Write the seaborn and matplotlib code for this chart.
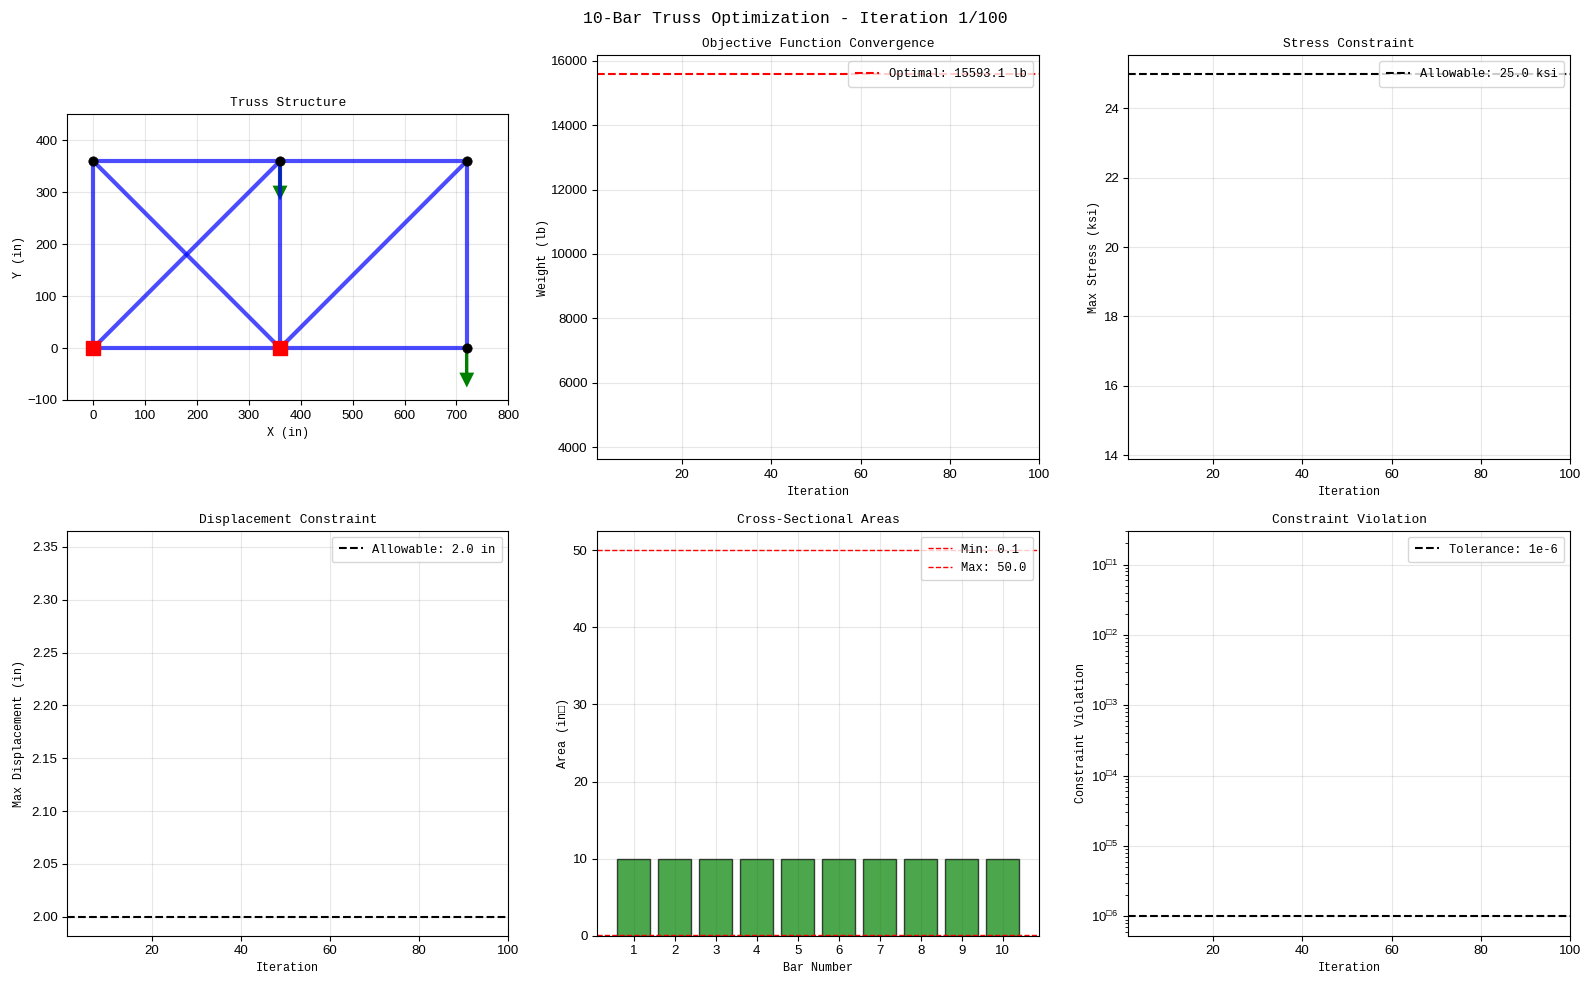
import numpy as np
import pandas as pd
import matplotlib
matplotlib.use("Agg")
import matplotlib.pyplot as plt
from matplotlib.ticker import FuncFormatter
import seaborn as sns

# truss geometry (inches)
member_x1 = [0, 360, 0, 360, 0, 360, 720, 0, 0, 360]
member_y1 = [0, 0, 360, 360, 0, 0, 0, 0, 360, 0]
member_x2 = [360, 720, 360, 720, 0, 360, 720, 360, 360, 720]
member_y2 = [0, 0, 360, 360, 360, 360, 360, 360, 0, 360]
node_x = [0, 360, 720, 0, 360, 720]
node_y = [360, 360, 360, 0, 0, 0]
support_x = [0, 360]
support_y = [0, 0]
load_x = [360, 720]
load_y = [360, 0]

bar_numbers = [1, 2, 3, 4, 5, 6, 7, 8, 9, 10]
bar_areas = [10, 10, 10, 10, 10, 10, 10, 10, 10, 10]

optimal_weight = 15593.1
allowable_stress = 25.0
allowable_disp = 2.0
area_min = 0.1
area_max = 50.0
tolerance = 1e-6

sns.set_style("ticks", rc={"axes.edgecolor": "black", "xtick.color": "black",
                           "ytick.color": "black", "text.color": "black",
                           "axes.labelcolor": "black"})
plt.rcParams["font.family"] = ["Liberation Mono", "DejaVu Sans"]
plt.rcParams["font.size"] = 9
plt.rcParams["axes.titlesize"] = 9.3
plt.rcParams["axes.labelsize"] = 8.5
plt.rcParams["xtick.labelsize"] = 9.5
plt.rcParams["ytick.labelsize"] = 9.5
plt.rcParams["legend.fontsize"] = 8.7
plt.rcParams["legend.borderpad"] = 0.55

W, H = 1590, 985
TICK_FONT = ["Liberation Sans", "DejaVu Sans"]


def place(ax, left, right, top, bottom):
    ax.set_position([left / W, 1 - bottom / H, (right - left) / W, (bottom - top) / H])


def finish(ax, title, xlabel, ylabel, ypad=3):
    ax.set_title(title, pad=6)
    ax.set_xlabel(xlabel, labelpad=3.5)
    ax.set_ylabel(ylabel, labelpad=ypad)
    ax.grid(True, color="#b0b0b0", alpha=0.3)
    for label in ax.get_xticklabels() + ax.get_yticklabels():
        label.set_family(TICK_FONT)


fig, axes = plt.subplots(2, 3, figsize=(W / 100, H / 100), dpi=100)
ax_truss, ax_obj, ax_stress = axes[0]
ax_disp, ax_area, ax_viol = axes[1]

# truss
members = pd.DataFrame({
    "bar": list(range(10)) * 2,
    "x": member_x1 + member_x2,
    "y": member_y1 + member_y2,
})
for x, y in zip(load_x, load_y):
    ax_truss.arrow(x, y, 0, -50, head_width=20, head_length=20, fc="green", ec="green", lw=2)
sns.lineplot(data=members, x="x", y="y", units="bar", estimator=None, sort=False,
             color="blue", alpha=0.7, linewidth=3, ax=ax_truss)
sns.scatterplot(x=node_x, y=node_y, color="black", s=45, edgecolor="black", zorder=5, ax=ax_truss)
sns.scatterplot(x=support_x, y=support_y, color="red", marker="s", s=100, edgecolor="red",
                linewidth=1, zorder=6, ax=ax_truss)
ax_truss.set_xlim(-50, 800)
ax_truss.set_ylim(-100, 450)
finish(ax_truss, "Truss Structure", "X (in)", "Y (in)", ypad=1.5)
place(ax_truss, 67.3, 508.3, 114.3, 400)

# objective
ax_obj.axhline(optimal_weight, color="red", ls="--", lw=1.5, label=f"Optimal: {optimal_weight} lb")
ax_obj.set_xlim(1, 100)
ax_obj.set_ylim(3620, 16172)
finish(ax_obj, "Objective Function Convergence", "Iteration", "Weight (lb)", ypad=1)
ax_obj.legend(loc="upper right")
place(ax_obj, 597.3, 1039.3, 55.3, 459.3)

# stress
ax_stress.axhline(allowable_stress, color="black", ls="--", lw=1.5, label=f"Allowable: {allowable_stress} ksi")
ax_stress.set_xlim(1, 100)
ax_stress.set_ylim(13.88, 25.53)
finish(ax_stress, "Stress Constraint", "Iteration", "Max Stress (ksi)")
ax_stress.legend(loc="upper right")
place(ax_stress, 1128.3, 1570.3, 55.3, 459.3)

# displacement
ax_disp.axhline(allowable_disp, color="black", ls="--", lw=1.5, label=f"Allowable: {allowable_disp} in")
ax_disp.set_xlim(1, 100)
ax_disp.set_ylim(1.982, 2.365)
finish(ax_disp, "Displacement Constraint", "Iteration", "Max Displacement (in)", ypad=5)
ax_disp.legend(loc="upper right")
place(ax_disp, 67.3, 508.3, 531, 935.7)

# areas
sns.barplot(x=bar_numbers, y=bar_areas, native_scale=True, color="green", saturation=1,
            alpha=0.7, edgecolor="black", linewidth=1, width=0.8, ax=ax_area)
ax_area.axhline(area_min, color="red", ls="--", lw=1, label=f"Min: {area_min}")
ax_area.axhline(area_max, color="red", ls="--", lw=1, label=f"Max: {area_max}")
ax_area.set_xticks(bar_numbers)
ax_area.set_xlim(0.11, 10.89)
ax_area.set_ylim(0, 52.5)
finish(ax_area, "Cross-Sectional Areas", "Bar Number", "Area (in\u25a1)")
ax_area.legend(loc="upper right")
place(ax_area, 597.3, 1039.3, 531, 935.7)

# violation
ax_viol.axhline(tolerance, color="black", ls="--", lw=1.5, label="Tolerance: 1e-6")
ax_viol.set_yscale("log")
ax_viol.set_xlim(1, 100)
ax_viol.set_ylim(5.3e-7, 3.0e-1)
ax_viol.yaxis.set_major_formatter(FuncFormatter(
    lambda v, pos: "$\\mathdefault{10^{\u25a1%d}}$" % abs(round(np.log10(v)))))
finish(ax_viol, "Constraint Violation", "Iteration", "Constraint Violation")
ax_viol.legend(loc="upper right")
place(ax_viol, 1128.3, 1570.3, 531, 935.7)

fig.suptitle("10-Bar Truss Optimization - Iteration 1/100", fontsize=11.8, y=1 - 11 / H)
fig.savefig("out.png", dpi=100)
